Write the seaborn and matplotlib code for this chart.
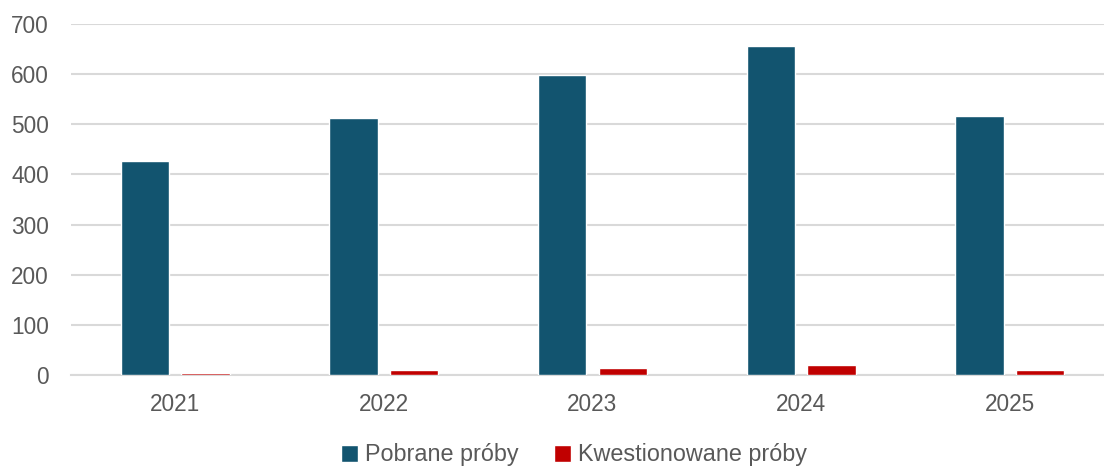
import matplotlib
matplotlib.use("Agg")
import matplotlib.pyplot as plt
import seaborn as sns
import pandas as pd

years = ["2021", "2022", "2023", "2024", "2025"]
pobrane = [427, 513, 599, 656, 517]
kwestionowane = [4, 9, 14, 19, 9]
series_names = ["Pobrane próby", "Kwestionowane próby"]
colors = ["#12546F", "#C00000"]

df = pd.DataFrame({
    "Rok": years * 2,
    "Wartość": pobrane + kwestionowane,
    "Seria": [series_names[0]] * len(years) + [series_names[1]] * len(years),
})

sns.set_theme(style="white")
plt.rcParams["font.family"] = ["Liberation Sans", "DejaVu Sans"]

fig = plt.figure(figsize=(11.04, 4.68), dpi=100)
ax = fig.add_axes([71 / 1104, 93 / 468, 1043 / 1104, 351 / 468])

sns.barplot(data=df, x="Rok", y="Wartość", hue="Seria", palette=colors,
            width=0.58, gap=0.2, ax=ax, saturation=1, legend=True)
for p in ax.patches:
    p.set_zorder(3)

ax.set_ylim(0, 700)
ax.set_yticks(range(0, 701, 100))
ax.set_xlim(-0.5, 4.5)
ax.yaxis.grid(True, color="#D9D9D9", linewidth=1.5)
ax.set_axisbelow(True)
for s in ["top", "right", "left"]:
    ax.spines[s].set_visible(False)
ax.spines["bottom"].set_color("#D9D9D9")
ax.spines["bottom"].set_linewidth(1.5)
ax.spines["bottom"].set_zorder(1)
ax.tick_params(axis="both", length=0, labelsize=16.3, labelcolor="#595959")
ax.tick_params(axis="y", pad=16)
ax.tick_params(axis="x", pad=13)
ax.set_xlabel("")
ax.set_ylabel("")

handles, labels = ax.get_legend_handles_labels()
ax.legend_.remove()
fig.legend(handles, labels, loc="center", bbox_to_anchor=(574 / 1104, 1 - 455 / 468),
           ncol=2, frameon=False, fontsize=16.8, labelcolor="#595959",
           handlelength=0.75, handleheight=0.75, handletextpad=0.3, columnspacing=1.5,
           borderpad=0.2)

fig.savefig("out.png", dpi=100)
